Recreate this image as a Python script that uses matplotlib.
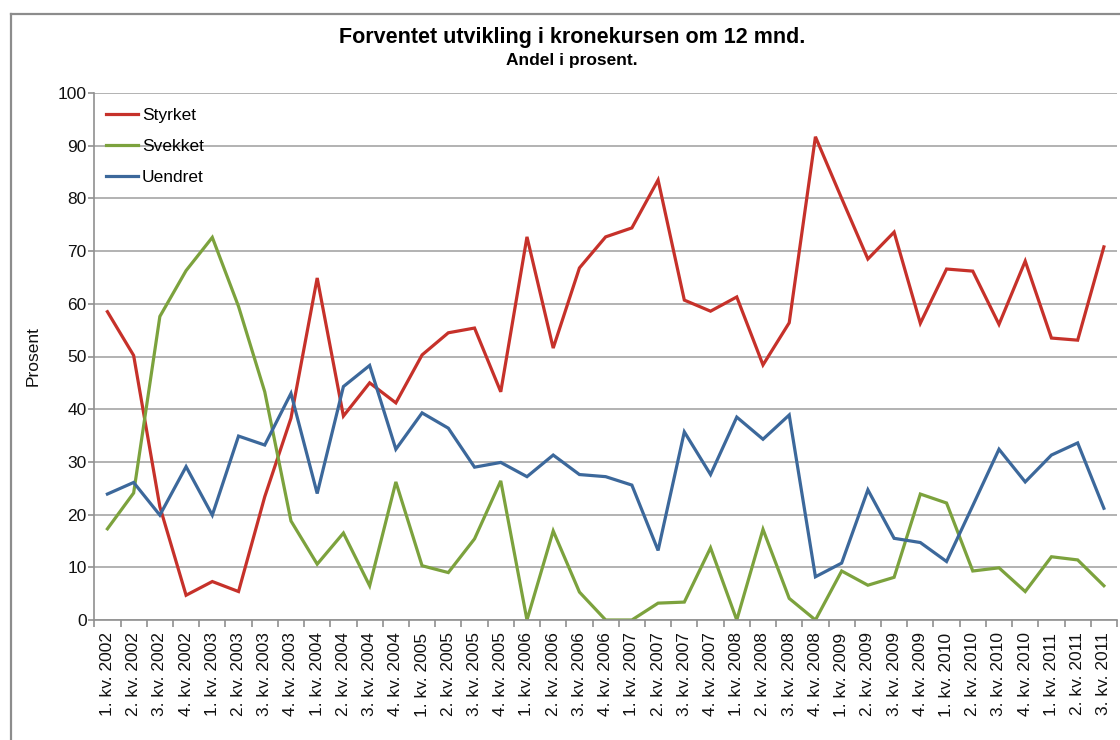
import matplotlib
matplotlib.use("Agg")
import matplotlib.pyplot as plt
from matplotlib.lines import Line2D

plt.rcParams['font.family'] = ['Liberation Sans', 'DejaVu Sans']

quarters = ["1. kv.", "2. kv.", "3. kv.", "4. kv."]
years = list(range(2002, 2012))
categories = [f"{q} {y}" for y in years for q in quarters][:39]

styrket = [58.5, 50.2, 21.5, 4.7, 7.3, 5.4, 23.4, 38.3, 64.9, 38.7, 45.0, 41.2,
           50.3, 54.5, 55.4, 43.3, 72.7, 51.6, 66.8, 72.7, 74.4, 83.5, 60.7, 58.6,
           61.3, 48.4, 56.4, 91.7, 80.0, 68.5, 73.6, 56.3, 66.6, 66.2, 56.1, 68.1,
           53.5, 53.1, 70.8]
svekket = [17.3, 24.1, 57.6, 66.3, 72.6, 59.5, 43.3, 18.8, 10.6, 16.5, 6.5, 26.2,
           10.3, 9.0, 15.4, 26.4, 0.0, 16.9, 5.3, 0.0, 0.0, 3.2, 3.4, 13.7,
           0.0, 17.2, 4.1, 0.0, 9.3, 6.6, 8.1, 23.9, 22.2, 9.3, 9.9, 5.4,
           12.0, 11.4, 6.5]
uendret = [23.9, 26.1, 19.9, 29.1, 19.9, 34.9, 33.2, 43.0, 24.0, 44.3, 48.3, 32.4,
           39.3, 36.4, 29.0, 29.9, 27.2, 31.3, 27.6, 27.2, 25.6, 13.2, 35.7, 27.6,
           38.5, 34.3, 38.9, 8.2, 10.8, 24.7, 15.5, 14.7, 11.1, 21.7, 32.4, 26.2,
           31.3, 33.6, 21.2]

series_names = ["Styrket", "Svekket", "Uendret"]
colors = ["#C6312A", "#7CA23D", "#3C689B"]

W, H = 1120, 740
fig = plt.figure(figsize=(W / 100, H / 100), dpi=100)
left, right, top, bottom = 94.3, 1117, 93, 620
ax = fig.add_axes([left / W, 1 - bottom / H, (right - left) / W, (bottom - top) / H])

x = list(range(len(categories)))
for name, vals, c in zip(series_names, [styrket, svekket, uendret], colors):
    ax.plot(x, vals, color=c, lw=2.3, label=name, solid_joinstyle='miter')

ax.set_xlim(-0.5, len(categories) - 0.5)
ax.set_ylim(0, 100)
ax.set_yticks(range(0, 101, 10))
ax.grid(axis='y', color='#a6a6a6', lw=1.2)
ax.set_axisbelow(True)

ax.set_xticks(x)
ax.set_xticklabels(categories, rotation=90, fontsize=12.5, color='#111111')
ax.set_xticks([i - 0.5 for i in range(len(categories) + 1)], minor=True)
ax.tick_params(axis='x', which='major', length=0, pad=9)
ax.tick_params(axis='x', which='minor', length=5, color='#909090', width=1.2)
ax.tick_params(axis='y', length=4, color='#909090', width=1.2, labelsize=12.5,
               labelcolor='#111111', pad=1.5)

for s in ['top', 'right']:
    ax.spines[s].set_visible(False)
for s in ['left', 'bottom']:
    ax.spines[s].set_color('#909090')
    ax.spines[s].set_linewidth(1.2)

ax.set_ylabel("Prosent", fontsize=12.5, color='#111111')
ax.yaxis.set_label_coords((41 - left) / (right - left), 0.5)

leg = ax.legend(loc='upper left',
                bbox_to_anchor=(12 / (right - left), 1 - (108 - top) / (bottom - top)),
                frameon=False, fontsize=12.5, handlelength=1.85, handletextpad=0.2,
                labelspacing=0.92, borderpad=0, borderaxespad=0)

fig.text(572 / W, 1 - 38 / H, "Forventet utvikling i kronekursen om 12 mnd.",
         ha='center', va='center', fontsize=15.5, fontweight='bold')
fig.text(572 / W, 1 - 60 / H, "Andel i prosent.",
         ha='center', va='center', fontsize=12.5, fontweight='bold')

# chart border (top and left visible)
fig.add_artist(Line2D([10.5 / W, 1.0], [1 - 13.5 / H, 1 - 13.5 / H],
                      transform=fig.transFigure, color='#8c8c8c', lw=1.6))
fig.add_artist(Line2D([10.5 / W, 10.5 / W], [1 - 13.5 / H, 0],
                      transform=fig.transFigure, color='#8c8c8c', lw=1.6))

fig.savefig("out.png", dpi=100)
